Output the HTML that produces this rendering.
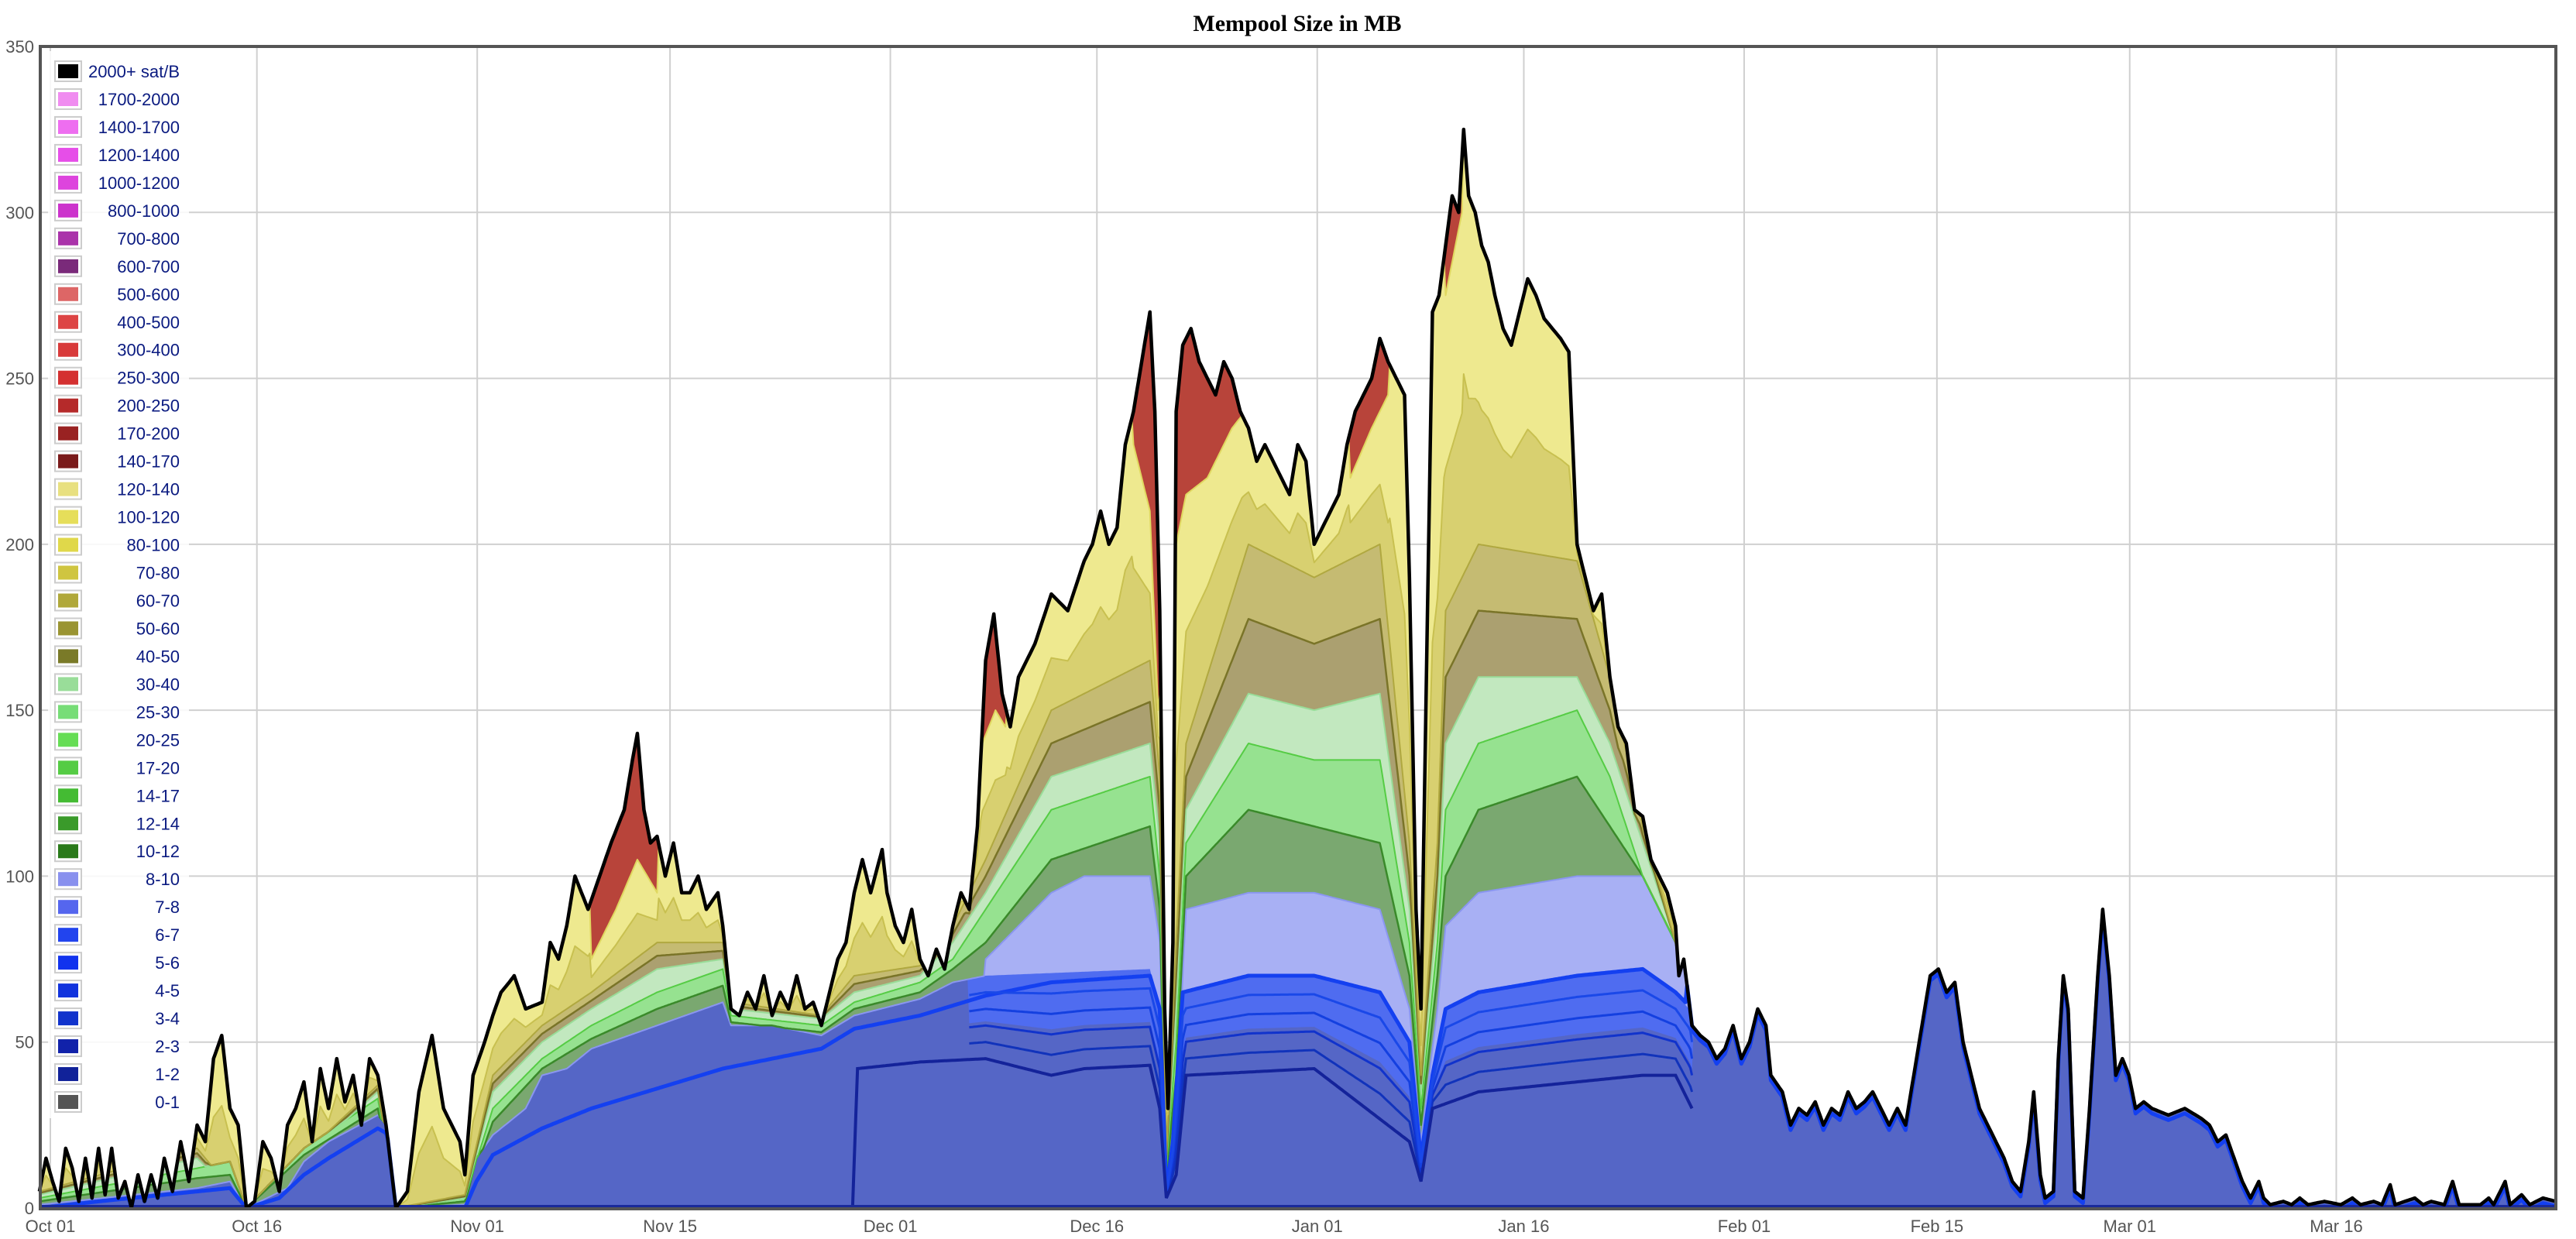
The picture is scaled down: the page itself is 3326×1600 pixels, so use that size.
<!DOCTYPE html>
<html><head><meta charset="utf-8"><style>
html,body{margin:0;padding:0;background:#fff;width:3326px;height:1600px;overflow:hidden}
svg{display:block}
</style></head><body>
<svg id="s" width="3326" height="1600" xmlns="http://www.w3.org/2000/svg" font-family="Liberation Sans, sans-serif">
<text x="1675" y="40" text-anchor="middle" font-family="Liberation Serif, serif" font-weight="bold" font-size="30" fill="#000">Mempool Size in MB</text>
<g id="grid"></g>
<g id="chart"></g>
<g id="legend"></g>
<rect x="52" y="60" width="3248" height="1501" fill="none" stroke="#555" stroke-width="4"/>
<g id="axis" font-size="22" fill="#555"></g>
</svg>
<script>
var NS="http://www.w3.org/2000/svg";
function el(p,t,a,txt){var e=document.createElementNS(NS,t);for(var k in a)e.setAttribute(k,a[k]);if(txt!==undefined)e.textContent=txt;p.appendChild(e);return e;}
var Y=function(v){return 1560-v*4.2857;}, X=function(x){return x*2.121;};
var grid=document.getElementById('grid'),axis=document.getElementById('axis');
for(var v=0;v<=350;v+=50){el(grid,'line',{x1:52,x2:3300,y1:Y(v),y2:Y(v),stroke:'#d0d0d0','stroke-width':2});
 el(axis,'text',{x:44,y:Y(v)+8,'text-anchor':'end'},String(v));}
var dates=[["Oct 01",0],["Oct 16",15],["Nov 01",31],["Nov 15",45],["Dec 01",61],["Dec 16",76],["Jan 01",92],["Jan 16",107],["Feb 01",123],["Feb 15",137],["Mar 01",151],["Mar 16",166]];
dates.forEach(function(d){var x=65+d[1]*17.78;el(grid,'line',{x1:x,x2:x,y1:60,y2:1560,stroke:'#d0d0d0','stroke-width':2});
 el(axis,'text',{x:x,y:1591,'text-anchor':'middle'},d[0]);});
function S(p){return function(x){if(x<=p[0][0])return p[0][1];for(var i=1;i<p.length;i++){if(x<=p[i][0]){var a=p[i-1],b=p[i];return a[1]+(b[1]-a[1])*(x-a[0])/(b[0]-a[0]);}}return p[p.length-1][1];};}
var T=S([[24,5],[28,15],[32,8],[36,2],[40,18],[44,12],[48,2],[52,15],[56,3],[60,18],[64,4],[68,18],[72,3],[76,8],[80,0],[84,10],[88,2],[92,10],[96,3],[100,15],[105,5],[110,20],[115,8],[120,25],[125,20],[130,45],[135,52],[140,30],[145,25],[150,0],[155,2],[160,20],[165,15],[170,5],[175,25],[180,30],[185,38],[190,20],[195,42],[200,30],[205,45],[210,32],[215,40],[220,25],[225,45],[230,40],[235,25],[241,0],[248,5],[255,35],[263,52],[270,30],[275,25],[280,20],[283,10],[288,40],[295,50],[300,58],[305,65],[310,68],[313,70],[320,60],[330,62],[335,80],[340,75],[345,85],[350,100],[358,90],[365,100],[372,110],[380,120],[385,135],[388,143],[392,120],[396,110],[400,112],[405,100],[410,110],[415,95],[420,95],[425,100],[430,90],[437,95],[440,85],[445,60],[450,58],[455,65],[460,60],[465,70],[470,58],[475,65],[480,60],[485,70],[490,60],[495,62],[500,55],[505,65],[510,75],[515,80],[520,95],[525,105],[530,95],[537,108],[540,95],[545,85],[550,80],[555,90],[560,75],[565,70],[570,78],[575,72],[580,85],[585,95],[590,90],[595,115],[600,165],[605,179],[610,155],[615,145],[620,160],[630,170],[640,185],[650,180],[660,195],[665,200],[670,210],[675,200],[680,205],[685,230],[690,240],[695,255],[700,270],[703,240],[706,180],[709,60],[711,30],[714,80],[716,240],[720,260],[725,265],[730,255],[735,250],[740,245],[745,255],[750,250],[755,240],[760,235],[765,225],[770,230],[775,225],[780,220],[785,215],[790,230],[795,225],[800,200],[805,205],[810,210],[815,215],[820,230],[825,240],[830,245],[835,250],[840,262],[845,255],[850,250],[855,245],[858,190],[862,90],[865,60],[868,150],[872,270],[876,275],[880,290],[884,305],[888,300],[891,325],[894,305],[898,300],[902,290],[906,285],[910,275],[915,265],[920,260],[925,270],[930,280],[935,275],[940,268],[945,265],[950,262],[955,258],[960,200],[965,190],[970,180],[975,185],[980,160],[985,145],[990,140],[995,120],[1000,118],[1005,105],[1010,100],[1015,95],[1020,85],[1022,70],[1025,75],[1030,55],[1035,52],[1040,50],[1045,45],[1050,48],[1055,55],[1060,45],[1065,50],[1070,60],[1075,55],[1078,40],[1085,35],[1090,25],[1095,30],[1100,28],[1105,32],[1110,25],[1115,30],[1120,28],[1125,35],[1130,30],[1135,32],[1140,35],[1145,30],[1150,25],[1155,30],[1160,25],[1165,40],[1170,55],[1175,70],[1180,72],[1185,65],[1190,68],[1195,50],[1200,40],[1205,30],[1210,25],[1215,20],[1220,15],[1225,8],[1230,5],[1235,20],[1238,35],[1242,10],[1245,3],[1250,5],[1253,45],[1256,70],[1259,60],[1263,5],[1268,3],[1272,30],[1277,70],[1280,90],[1284,70],[1288,40],[1292,45],[1296,40],[1300,30],[1305,32],[1310,30],[1320,28],[1330,30],[1340,27],[1345,25],[1350,20],[1355,22],[1360,15],[1365,8],[1370,3],[1375,8],[1378,3],[1382,1],[1390,2],[1395,1],[1400,3],[1405,1],[1415,2],[1425,1],[1432,3],[1437,1],[1445,2],[1450,1],[1455,7],[1458,1],[1470,3],[1475,1],[1480,2],[1488,1],[1493,8],[1497,1],[1510,1],[1515,3],[1518,1],[1525,8],[1528,1],[1535,4],[1540,1],[1548,3],[1556,2]]);
var b1=S([[24,1],[120,6],[140,8],[150,0],[175,6],[185,14],[200,20],[230,28],[237,24],[241,0],[283,1],[290,15],[300,22],[320,30],[330,40],[345,42],[360,48],[400,55],[440,62],[445,55],[470,55],[500,52],[520,58],[560,63],[580,68],[600,70],[700,72],[706,60],[710,5],[714,20],[720,65],[760,70],[800,70],[840,65],[858,50],[865,15],[872,40],[880,60],[900,65],[960,70],[1000,72],[1020,65],[1028,60],[1030,999],[1556,999]]);
var b2=S([[0,0],[595,0],[600,75],[640,95],[660,100],[700,100],[706,80],[710,8],[716,30],[722,90],[760,95],[800,95],[840,90],[858,60],[865,20],[875,60],[880,85],[900,95],[960,100],[1000,100],[1020,80],[1028,70],[1030,999],[1556,999]]);
var g1=S([[24,2],[120,9],[140,10],[150,0],[185,16],[230,30],[241,0],[283,2],[300,26],[330,42],[360,51],[400,60],[440,67],[445,56],[500,53],[520,60],[560,65],[580,72],[600,80],[640,105],[700,115],[706,90],[710,10],[716,40],[722,100],[760,120],[800,115],[840,110],[858,70],[865,25],[875,70],[880,100],[900,120],[960,130],[980,115],[1000,100],[1020,80],[1030,999],[1556,999]]);
var g2=S([[24,3],[120,12],[140,14],[150,0],[185,18],[230,33],[241,0],[283,3],[300,30],[330,45],[360,55],[400,65],[440,72],[445,58],[500,55],[520,62],[560,68],[580,75],[600,90],[640,120],[700,130],[706,100],[710,12],[716,50],[722,110],[760,140],[800,135],[840,135],[858,80],[865,30],[875,80],[880,120],[900,140],[960,150],[980,130],[1000,100],[1020,80],[1030,999],[1556,999]]);
var g3=S([[24,4],[120,15],[150,0],[230,35],[241,0],[283,3],[300,35],[330,50],[360,60],[400,72],[440,75],[445,60],[500,57],[520,65],[560,70],[580,80],[600,95],[640,130],[700,140],[706,110],[710,14],[716,60],[722,120],[760,155],[800,150],[840,155],[858,90],[865,35],[875,90],[880,140],[900,160],[960,160],[980,140],[1000,110],[1020,80],[1030,999],[1556,999]]);
var o1=S([[24,5],[120,18],[150,0],[230,37],[241,0],[283,4],[300,40],[330,55],[360,65],[400,80],[440,80],[445,62],[500,58],[520,70],[560,73],[580,85],[600,105],[640,150],[700,165],[706,130],[710,16],[716,80],[722,140],[760,200],[800,190],[840,200],[858,110],[865,40],[875,110],[880,180],[900,200],[960,195],[980,160],[1000,115],[1020,80],[1030,999],[1556,999]]);
var y1=S([[0,999],[355,999],[360,75],[375,90],[388,105],[400,95],[404,999],[595,999],[598,140],[606,150],[612,145],[615,999],[686,999],[690,230],[700,210],[705,150],[716,200],[722,215],[735,220],[750,235],[758,240],[762,999],[818,999],[822,220],[835,235],[845,245],[852,999],[876,999],[880,275],[890,300],[895,999],[1556,999]]);
var L2=S([[24,0],[519,0],[522,42],[560,44],[600,45],[640,40],[660,42],[700,43],[706,30],[710,3],[716,10],[722,40],[800,42],[858,20],[865,8],[872,30],[900,35],[1000,40],[1020,40],[1030,30],[1100,15],[1556,0]]);
var L1=S([[24,0],[60,2],[100,4],[120,5],[140,6],[150,0],[170,3],[185,10],[200,15],[230,24],[237,22],[241,0],[283,0],[290,8],[300,16],[330,24],[360,30],[400,36],[440,42],[500,48],[520,54],[560,58],[600,64],[640,68],[700,70],[706,60],[710,5],[714,20],[720,65],[760,70],[800,70],[840,65],[858,50],[865,15],[872,40],[880,60],[900,65],[960,70],[1000,72],[1020,65],[1026,62],[1030,999],[1556,999]]);
var xs=[];for(var x=24;x<=1556;x+=1)xs.push(x);
var D={T:[],b1:[],b2:[],g1:[],g2:[],g3:[],om:[],o1:[],y1:[],ym:[],L2:[],bb:[],L1:[]};
xs.forEach(function(x){var t=T(x);var a=Math.min(b1(x),t);var b=Math.min(Math.max(b2(x),a),t);var c=Math.min(Math.max(g1(x),b),t);var d=Math.min(Math.max(g2(x),c),t);var e=Math.min(Math.max(g3(x),d),t);var o=Math.min(Math.max(o1(x),e),t);var yy=Math.min(Math.max(y1(x),o),t);
var l=Math.min(L2(x),a);
D.T.push(t);D.b1.push(a);D.b2.push(b);D.g1.push(c);D.g2.push(d);D.g3.push(e);D.om.push((e+o)/2);D.o1.push(o);D.y1.push(yy);D.ym.push(o+(yy-o)*0.45);D.L2.push(l);
D.L1.push(x>1030?Math.max(t-1.5,0):Math.min(L1(x),t));
D.bb.push((x>=590&&x<=1030)?l+(a-l)*0.45:a);});
function pts(k,lo,hi){return xs.map(function(x,i){return [x,i];}).filter(function(p){return (lo===undefined)||(p[0]>=lo&&p[0]<=hi);}).map(function(p){return X(p[0]).toFixed(1)+','+Y(D[k][p[1]]).toFixed(1);}).join(' ');}
function area(k){return 'M'+X(xs[0])+','+Y(0)+' L'+pts(k)+' L'+X(xs[xs.length-1])+','+Y(0)+'Z';}
var ch=document.getElementById('chart');
var layers=[['T','#b8443a'],['y1','#eee98f'],['ym','#d8d070'],['o1','#c5bb72'],['om','#aba070'],['g3','#c2e8bf'],['g2','#96e290'],['g1','#7aa870'],['b2','#a8b0f4'],['b1','#4f6cf0'],['bb','#5566c6']];
layers.forEach(function(l){el(ch,'path',{d:area(l[0]),fill:l[1]});});
var strokes=[['b2','#8a96f0',2],['g1','#3a8a2a',2.5],['g2','#55cc44',2],['g3','#99dd99',2],['om','#7a7428',2.5],['o1','#b0a840',2],['ym','#c8c050',2],['y1','#e0d860',2]];
strokes.forEach(function(s){el(ch,'polyline',{points:pts(s[0]),fill:'none',stroke:s[1],'stroke-width':s[2],'stroke-linejoin':'round'});});
el(ch,'polyline',{points:pts('L1'),fill:'none',stroke:'#1440f0','stroke-width':5,'stroke-linejoin':'round'});
[[0.2,'#1133bb'],[0.4,'#1133cc'],[0.6,'#1440e0'],[0.8,'#1a48e8']].forEach(function(f){
 el(ch,'polyline',{points:xs.filter(function(x){return x>=590&&x<=1030;}).map(function(x){var i=x-24;var lo=D.L2[i];var v=lo+(D.b1[i]-lo)*f[0];return X(x).toFixed(1)+','+Y(v).toFixed(1);}).join(' '),fill:'none',stroke:f[1],'stroke-width':3});});
el(ch,'polyline',{points:pts('L2',518,1030),fill:'none',stroke:'#14239a','stroke-width':4});
el(ch,'line',{x1:52,x2:3300,y1:1558,y2:1558,stroke:'#1a2a9a','stroke-width':4});
el(ch,'polyline',{points:pts('T'),fill:'none',stroke:'#000','stroke-width':4.5,'stroke-linejoin':'round'});
var lg=document.getElementById('legend');
var L=[["2000+ sat/B","#000000"],["1700-2000","#f08cf0"],["1400-1700","#ee6ef0"],["1200-1400","#e64ee8"],["1000-1200","#dd44dd"],["800-1000","#cc33cc"],["700-800","#aa33aa"],["600-700","#7a2a7a"],["500-600","#dd6666"],["400-500","#dd4444"],["300-400","#d83a3a"],["250-300","#d43030"],["200-250","#b52a2a"],["170-200","#992222"],["140-170","#7a1a1a"],["120-140","#e8e080"],["100-120","#e6de5a"],["80-100","#e0d84a"],["70-80","#cfc540"],["60-70","#b0a83a"],["50-60","#9a9432"],["40-50","#7a7a28"],["30-40","#99dd99"],["25-30","#77dd77"],["20-25","#66dd55"],["17-20","#55cc44"],["14-17","#44bb33"],["12-14","#3a9a2a"],["10-12","#2a7a1a"],["8-10","#8890ee"],["7-8","#5566ee"],["6-7","#2244ee"],["5-6","#1133ee"],["4-5","#1133dd"],["3-4","#1133cc"],["2-3","#1122aa"],["1-2","#112299"],["0-1","#555555"]];
el(lg,'rect',{x:62,y:66,width:182,height:1378,fill:'#fff',opacity:0.85});
L.forEach(function(e,i){var cy=92+i*(1331/37);
 el(lg,'rect',{x:71,y:cy-13,width:34,height:26,fill:'#fff',stroke:'#ccc','stroke-width':2});
 el(lg,'rect',{x:75,y:cy-9,width:26,height:18,fill:e[1]});
 el(lg,'text',{x:232,y:cy+8,'text-anchor':'end','font-size':22,fill:'#0a1a80'},e[0]);});
</script>
</body></html>
